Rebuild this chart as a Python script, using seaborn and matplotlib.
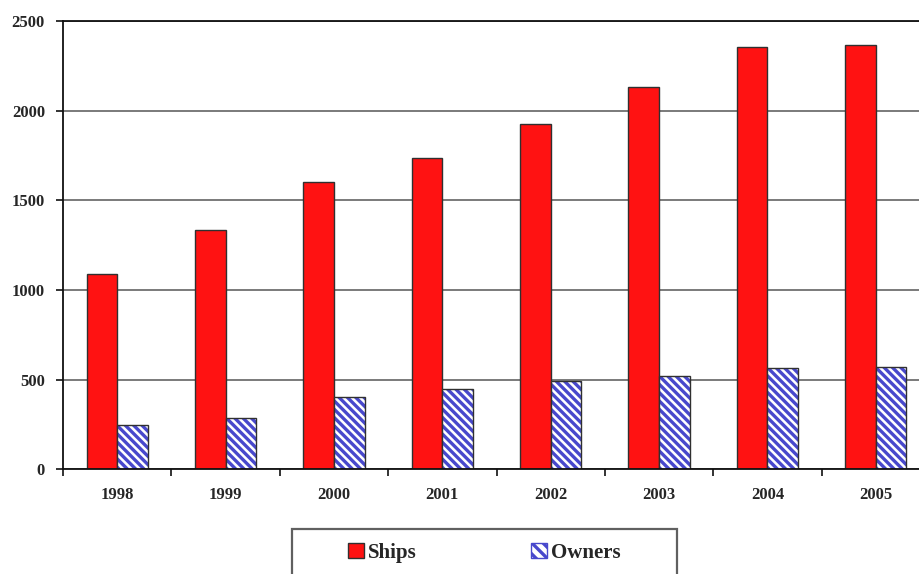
import pandas as pd
import matplotlib.pyplot as plt
import matplotlib.patches as mpatches
import seaborn as sns

# Values
years = ['1998', '1999', '2000', '2001', '2002', '2003', '2004', '2005']
ships = [1089, 1336, 1602, 1734, 1927, 2134, 2357, 2366]
owners = [247, 284, 403, 448, 492, 518, 563, 570]
series = ['Ships', 'Owners']

df = pd.DataFrame({
    'year': years * 2,
    'value': ships + owners,
    'series': ['Ships'] * len(years) + ['Owners'] * len(years),
})

red = '#ff1212'
blue = '#4848cc'
edge = '#303030'
hatch = '\\' * 4

sns.set_style('white')
plt.rcParams['font.family'] = ['Liberation Serif', 'DejaVu Serif']
plt.rcParams['font.weight'] = 'bold'
plt.rcParams['hatch.linewidth'] = 2.4

fig = plt.figure(figsize=(9.19, 5.74), dpi=100)
ax = fig.add_axes([63 / 919, 104.7 / 574, 867 / 919, 448.3 / 574])

sns.barplot(data=df, x='year', y='value', hue='series', hue_order=series,
            palette={'Ships': red, 'Owners': 'white'}, width=0.566,
            edgecolor=edge, linewidth=1.0, saturation=1, legend=False, ax=ax)

# hatch the Owners bars, then redraw their dark outline on top
for p in ax.containers[1]:
    p.set_edgecolor(blue)
    p.set_linewidth(0)
    p.set_hatch(hatch)
    b = p.get_bbox()
    ax.add_patch(mpatches.Rectangle((b.x0, b.y0), b.width, b.height, fill=False,
                                    edgecolor=edge, linewidth=1.0, zorder=p.get_zorder() + 0.1))

ax.set_xlim(-0.5, 7.5)
ax.set_ylim(0, 2500)
ax.set_yticks([0, 500, 1000, 1500, 2000, 2500])
ax.yaxis.grid(True, color='#707070', linewidth=1.3)
ax.set_axisbelow(True)
ax.set_xlabel('')
ax.set_ylabel('')

for s in ['left', 'bottom', 'top']:
    ax.spines[s].set_visible(True)
    ax.spines[s].set_color('#101010')
    ax.spines[s].set_linewidth(1.3)
ax.spines['right'].set_visible(False)

ax.set_xticks(range(len(years)))
ax.set_xticks([i - 0.5 for i in range(len(years) + 1)], minor=True)
ax.tick_params(axis='x', which='major', length=0, pad=13, labelsize=12)
ax.tick_params(axis='x', which='minor', length=5, width=1.2, color='#101010', bottom=True)
ax.tick_params(axis='y', length=5, width=1.2, color='#101010', left=True, pad=8, labelsize=12)

handles = [
    mpatches.Patch(facecolor=red, edgecolor=edge, linewidth=1.0, label='Ships'),
    mpatches.Patch(facecolor='white', edgecolor=blue, hatch='\\\\\\', linewidth=1.0, label='Owners'),
]
leg = fig.legend(handles=handles, loc='center', bbox_to_anchor=(484.5 / 919, 21 / 574),
                 ncol=2, frameon=False, fontsize=15, handlelength=0.75, handleheight=0.75,
                 handletextpad=0.2, columnspacing=5.5)
for t in leg.get_texts():
    t.set_fontweight('bold')

fig.add_artist(mpatches.Rectangle((292 / 919, -4 / 574), 385 / 919, 49 / 574,
                                  transform=fig.transFigure, fill=False,
                                  edgecolor='#606060', linewidth=1.6))

fig.savefig('out.png', dpi=100)
